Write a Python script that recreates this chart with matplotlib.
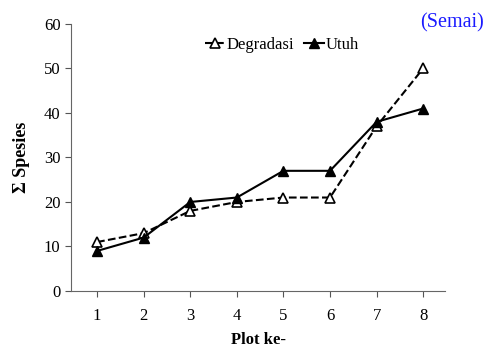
import matplotlib.pyplot as plt
import matplotlib

matplotlib.rcParams['font.family'] = ['Liberation Serif', 'DejaVu Serif']

# jumlah spesies per plot
plots = [1, 2, 3, 4, 5, 6, 7, 8]
degradasi = [11, 13, 18, 20, 21, 21, 37, 50]
utuh = [9, 12, 20, 21, 27, 27, 38, 41]
yticks = [0, 10, 20, 30, 40, 50, 60]

fig = plt.figure(figsize=(4.88, 3.47), dpi=100)
ax = fig.add_axes([0.1455, 0.1614, 0.7665, 0.7696])

ax.plot(plots, degradasi, linestyle='--', color='black', lw=1.5,
        marker='^', markersize=7, markerfacecolor='white',
        markeredgecolor='black', markeredgewidth=1.2, label='Degradasi')
ax.plot(plots, utuh, linestyle='-', color='black', lw=1.5,
        marker='^', markersize=7, markerfacecolor='black',
        markeredgecolor='black', label='Utuh')

ax.set_xlim(0.44, 8.47)
ax.set_ylim(0, 60)
ax.set_xticks(plots)
ax.set_yticks(yticks)
ax.tick_params(axis='both', direction='out', length=4, width=0.8,
               labelsize=12, colors='#555555', labelcolor='black')
ax.tick_params(axis='x', pad=8)
for s in ['top', 'right']:
    ax.spines[s].set_visible(False)
for s in ['left', 'bottom']:
    ax.spines[s].set_color('#666666')

ax.set_xlabel('Plot ke-', fontsize=12, fontweight='bold', labelpad=6)
ax.set_ylabel('Σ Spesies', fontsize=13, fontweight='bold', labelpad=10)

ax.legend(loc='upper center', bbox_to_anchor=(0.565, 0.995), ncol=2,
          frameon=False, fontsize=12, handlelength=1.2, handletextpad=0.1,
          columnspacing=0.6, borderpad=0.2)

fig.text(0.992, 0.935, '(Semai)', color='#1a1aff', fontsize=14.5,
         ha='right', va='center')

plt.savefig('out.png', dpi=100)
